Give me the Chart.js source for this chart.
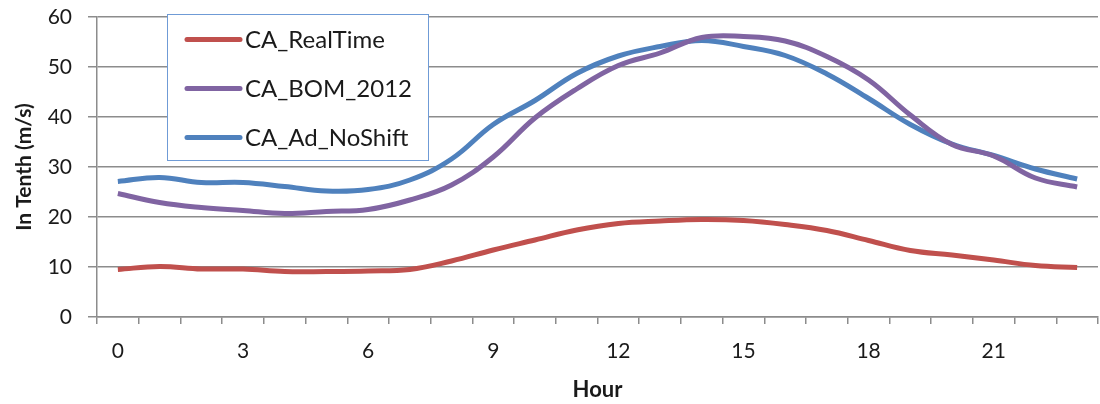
<!DOCTYPE html>
<html>
<head>
<meta charset="utf-8">
<script src="https://cdn.jsdelivr.net/npm/chart.js@4/dist/chart.umd.min.js"></script>
<style>
  html, body { margin: 0; padding: 0; background: #ffffff; }
  #wrap { width: 1100px; height: 404px; }
</style>
</head>
<body>
<div id="wrap"><canvas id="c" width="1100" height="404"></canvas></div>
<script>
// Hour of day (categories)
const hours = ['0','1','2','3','4','5','6','7','8','9','10','11',
               '12','13','14','15','16','17','18','19','20','21','22','23'];

// Hourly averages, in tenths of m/s
const caRealTime = [9.5, 10.1, 9.6, 9.6, 9.1, 9.1, 9.2, 9.5, 11.2, 13.4, 15.4, 17.4,
                    18.7, 19.2, 19.5, 19.3, 18.5, 17.3, 15.3, 13.3, 12.4, 11.4, 10.3, 9.9];
const caBom2012  = [24.7, 22.9, 21.9, 21.3, 20.7, 21.1, 21.5, 23.4, 26.4, 32.0, 39.8, 45.6,
                    50.3, 52.8, 55.9, 56.1, 55.2, 52.1, 47.4, 40.4, 34.5, 32.2, 27.8, 26.0];
const caAdNoShift = [27.1, 27.9, 26.9, 26.9, 26.1, 25.2, 25.5, 27.4, 31.6, 38.5, 43.3, 48.7,
                     52.2, 54.1, 55.3, 54.1, 52.3, 48.6, 43.7, 38.5, 34.6, 32.3, 29.6, 27.6];

const seriesNames = ['CA_RealTime', 'CA_BOM_2012', 'CA_Ad_NoShift'];
const seriesColors = ['#C0504D', '#8064A2', '#4F81BD'];

const FONT = 'Lato, "Open Sans", sans-serif';
const GRID = '#8c8c8c';
const TEXT = '#1a1a1a';

// Legend drawn as a framed box inside the plot area
const boxLegend = {
  id: 'boxLegend',
  afterDatasetsDraw(chart) {
    const ctx = chart.ctx;
    ctx.save();
    const bx = 167.5, by = 14.5, bw = 261, bh = 146;
    ctx.fillStyle = '#ffffff';
    ctx.fillRect(bx, by, bw, bh);
    ctx.strokeStyle = '#6f9bd6';
    ctx.lineWidth = 1;
    ctx.strokeRect(bx, by, bw, bh);
    ctx.font = '24px ' + FONT;
    ctx.textBaseline = 'middle';
    ctx.textAlign = 'left';
    chart.data.datasets.forEach((ds, i) => {
      const y = 39.5 + i * 49;
      ctx.strokeStyle = ds.borderColor;
      ctx.lineWidth = 5;
      ctx.lineCap = 'round';
      ctx.beginPath();
      ctx.moveTo(187, y);
      ctx.lineTo(240, y);
      ctx.stroke();
      ctx.fillStyle = TEXT;
      ctx.fillText(ds.label, 245, y + 1);
    });
    ctx.restore();
  }
};

const seriesData = [caRealTime, caBom2012, caAdNoShift];

new Chart(document.getElementById('c'), {
  type: 'line',
  data: {
    labels: hours,
    datasets: seriesData.map((d, i) => ({
      label: seriesNames[i],
      data: d,
      borderColor: seriesColors[i],
      backgroundColor: seriesColors[i],
      borderWidth: 5,
      pointRadius: 0,
      tension: 0.4,
      fill: false
    }))
  },
  options: {
    responsive: false,
    animation: false,
    devicePixelRatio: 1,
    layout: { padding: { top: 17, right: 2, left: 0, bottom: 0 } },
    plugins: {
      legend: { display: false },
      tooltip: { enabled: false }
    },
    scales: {
      x: {
        type: 'category',
        offset: true,
        grid: {
          offset: true,
          drawOnChartArea: false,
          drawTicks: true,
          tickLength: 7,
          color: GRID,
          lineWidth: 1.5
        },
        border: { display: true, color: GRID, width: 1.5 },
        ticks: {
          autoSkip: false,
          maxRotation: 0,
          padding: 15,
          color: TEXT,
          font: { family: FONT, size: 21 },
          callback: (v, idx) => (idx % 3 === 0 ? hours[idx] : '')
        },
        title: {
          display: true,
          text: 'Hour',
          color: TEXT,
          font: { family: FONT, size: 22, weight: 'bold' },
          padding: { top: 0, bottom: 1 }
        },
        afterFit(scale) {
          scale.height = 87;
          scale.paddingLeft = 0;
          scale.paddingRight = 0;
        }
      },
      y: {
        min: 0,
        max: 60,
        ticks: {
          stepSize: 10,
          padding: 16,
          color: TEXT,
          font: { family: FONT, size: 21 }
        },
        grid: {
          color: GRID,
          lineWidth: 1.5,
          tickLength: 9
        },
        border: { display: true, color: GRID, width: 1.5 },
        title: {
          display: true,
          text: 'In Tenth (m/s)',
          color: TEXT,
          font: { family: FONT, size: 21, weight: 'bold' },
          padding: { top: 12, bottom: 0 }
        },
        afterFit(scale) {
          scale.width = 97;
          scale.paddingTop = 0;
          scale.paddingBottom = 0;
        }
      }
    }
  },
  plugins: [boxLegend]
});
</script>
</body>
</html>
